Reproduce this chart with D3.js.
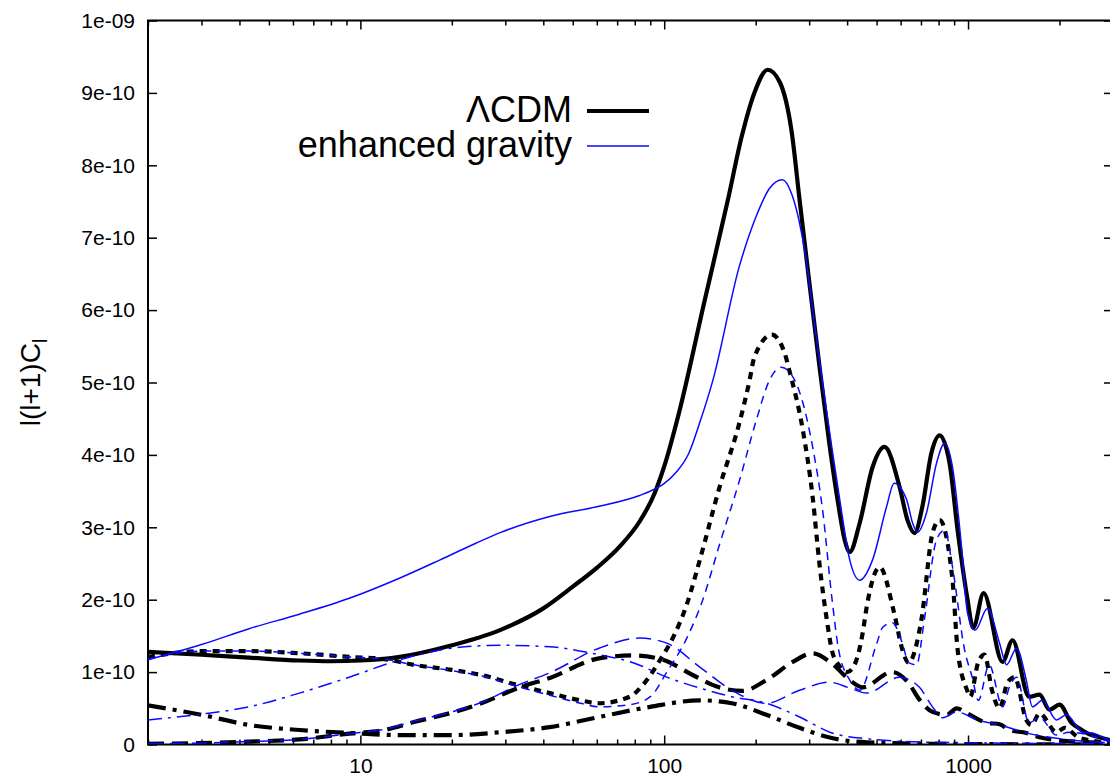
<!DOCTYPE html>
<html lang="en">
<head>
<meta charset="utf-8">
<style>
  body { margin: 0; background: #fff; }
  svg { display: block; }
  .axis .domain { display: none; }
  .axis line { stroke: #000; stroke-width: 1.5; }
  .axis text { fill: #000; }
</style>
<script src="https://cdn.jsdelivr.net/npm/d3@7/dist/d3.min.js"></script>
</head>
<body>
<svg id="chart" width="1110" height="778"></svg>
<script>
// [multipole l, l(l+1)C_l in units of 1e-10]
var lcdmTotal = [[2,1.28],[3,1.24],[4.3,1.2],[6.3,1.16],[8,1.15],[10,1.16],[13.5,1.21],[19.6,1.36],[28.8,1.58],[40,1.88],[50,2.18],[60,2.44],[71.6,2.74],[83,3.08],[93,3.47],[100,3.84],[112,4.59],[136,6.14],[162,7.52],[180,8.4],[198,9.0],[219,9.32],[240,9.15],[263,8.45],[279,7.52],[301,6.35],[324,5.24],[350,4.14],[372,3.38],[393,2.82],[408,2.66],[440,3.06],[485,3.83],[531,4.11],[595,3.56],[632,3.1],[667,2.92],[707,3.28],[758,4.03],[806,4.27],[869,3.89],[924,2.96],[993,2.04],[1040,1.61],[1125,2.09],[1299,1.14],[1401,1.44],[1588,0.66],[1719,0.69],[1854,0.48],[2000,0.55],[2190,0.3],[2328,0.22],[2510,0.14],[2707,0.1],[3000,0.05]];
var lcdmSW = [[2,1.21],[3,1.29],[4.3,1.29],[6.3,1.26],[9.2,1.21],[12,1.18],[15,1.1],[20,1.03],[25,0.96],[33,0.82],[42,0.71],[53,0.61],[61,0.57],[77,0.66],[85,0.82],[97,1.17],[107,1.48],[119,1.95],[131,2.55],[152,3.55],[177,4.45],[191,5.03],[198,5.35],[226,5.66],[249,5.41],[258,5.17],[286,4.34],[308,3.42],[324,2.51],[343,1.72],[356,1.31],[375,1.1],[400,1.0],[425,1.12],[450,1.54],[464,1.9],[512,2.45],[571,1.82],[608,1.31],[637,1.13],[702,1.72],[764,2.92],[806,3.1],[889,2.27],[924,1.31],[993,0.75],[1016,0.66],[1081,1.14],[1133,1.24],[1199,0.75],[1270,0.5],[1350,0.86],[1423,0.93],[1555,0.34],[1618,0.27],[1719,0.43],[1955,0.17],[2077,0.23],[2328,0.09],[3000,0.02]];
var lcdmDoppler = [[2,0.01],[3,0.02],[4.3,0.04],[6.3,0.07],[9.2,0.15],[12,0.2],[15,0.31],[20,0.44],[25,0.57],[33,0.78],[42,0.92],[61,1.19],[79,1.23],[99,1.17],[124,0.96],[149,0.8],[181,0.74],[217,0.89],[265,1.14],[308,1.26],[356,1.12],[408,0.89],[450,0.79],[563,1.0],[637,0.85],[692,0.62],[764,0.45],[851,0.41],[917,0.5],[993,0.43],[1151,0.3],[1270,0.28],[1370,0.2],[1555,0.16],[1719,0.1],[1955,0.06],[3000,0.02]];
var lcdmISW = [[2,0.54],[3,0.41],[4.3,0.27],[6.3,0.2],[9.2,0.16],[13.5,0.13],[20,0.13],[29,0.17],[42,0.24],[61,0.38],[90,0.52],[131,0.61],[167,0.57],[217,0.41],[279,0.23],[356,0.09],[464,0.03],[764,0.01],[3000,0]];

var egTotal = [[2,1.17],[3,1.38],[4.3,1.6],[6.3,1.8],[9.2,2.02],[13.5,2.3],[18.3,2.55],[24,2.78],[29,2.93],[42,3.15],[61,3.29],[83,3.44],[90,3.5],[99.6,3.6],[109.5,3.76],[120.4,4.02],[131,4.45],[144.6,5.03],[176.6,6.6],[201,7.3],[222,7.68],[245,7.8],[263,7.6],[279,7.2],[292,6.75],[308,6.0],[333,4.95],[356,4.11],[384,3.2],[408,2.55],[440,2.27],[485,2.55],[539,3.28],[571,3.61],[628,3.38],[657,3.06],[682,2.93],[730,3.2],[788,3.89],[838,4.16],[889,3.83],[952,2.73],[996,1.82],[1056,1.58],[1158,1.88],[1270,1.4],[1339,1.1],[1445,1.33],[1555,0.89],[1629,0.52],[1758,0.61],[1955,0.34],[2108,0.41],[2380,0.17],[2568,0.16],[2920,0.06],[3000,0.05]];
var egSW = [[2,1.18],[3,1.29],[4.3,1.29],[6.3,1.26],[9.2,1.21],[12,1.18],[15,1.1],[20,1.02],[25,0.95],[33,0.8],[42,0.68],[53,0.57],[61,0.52],[77,0.55],[90,0.66],[102,1.0],[119,1.48],[134,2.0],[152,2.76],[177,3.65],[201,4.48],[222,5.03],[243,5.21],[269,5.03],[308,4.11],[333,3.2],[356,2.04],[375,1.31],[408,0.89],[440,0.75],[501,1.4],[524,1.62],[563,1.68],[608,1.4],[637,1.13],[677,1.1],[718,1.72],[788,2.83],[838,2.96],[889,2.45],[974,1.31],[1032,0.93],[1081,0.61],[1174,1.1],[1299,0.52],[1370,0.8],[1445,0.93],[1588,0.3],[1719,0.37],[1955,0.13],[2157,0.17],[3000,0.02]];
var egDoppler = [[2,0.01],[3,0.02],[4.3,0.04],[6.3,0.07],[9.2,0.15],[12,0.21],[15,0.32],[20,0.45],[25,0.58],[33,0.82],[42,0.99],[61,1.33],[83,1.47],[102,1.4],[131,1.07],[167,0.75],[217,0.57],[279,0.75],[350,0.86],[408,0.78],[464,0.71],[595,0.93],[692,0.79],[764,0.52],[825,0.37],[917,0.45],[1073,0.34],[1270,0.27],[1588,0.15],[2000,0.08],[3000,0.02]];
var egISW = [[2,0.34],[3,0.42],[4.3,0.52],[6.3,0.71],[9.2,0.93],[13.5,1.17],[20,1.33],[29,1.37],[42,1.35],[61,1.24],[79,1.13],[102,0.93],[131,0.78],[167,0.66],[217,0.57],[279,0.38],[356,0.16],[464,0.08],[764,0.03],[3000,0.01]];

var yTickValues = [0,1,2,3,4,5,6,7,8,9,10];
var yTickLabels = ["0","1e-10","2e-10","3e-10","4e-10","5e-10","6e-10","7e-10","8e-10","9e-10","1e-09"];
var xMajorTicks = [10,100,1000];
var xMajorLabels = ["10","100","1000"];
var xMinorTicks = [2,3,4,5,6,7,8,9,20,30,40,50,60,70,80,90,200,300,400,500,600,700,800,900,2000,3000];
var legendLabels = ["\u039bCDM","enhanced gravity"];

var svg = d3.select("#chart"),
    plotLeft = 148, plotRight = 1113, plotTop = 20.5, plotBottom = 744.5,
    font = "'Liberation Sans', Arial, Helvetica, sans-serif",
    blue = "#0a0aff";

var x = d3.scaleLog().domain([2, 3000]).range([plotLeft, plotRight]);
var y = d3.scaleLinear().domain([0, 10]).range([plotBottom, plotTop]);

// axes: inward ticks, mirrored on top and right
function styleAxis(g) {
    g.attr("class", "axis").attr("font-family", font).attr("font-size", 21);
}
svg.append("g").attr("transform", "translate(0," + plotBottom + ")")
   .call(d3.axisBottom(x).tickValues(xMinorTicks).tickSize(-5).tickFormat("")).call(styleAxis);
svg.append("g").attr("transform", "translate(0," + plotBottom + ")")
   .call(d3.axisBottom(x).tickValues(xMajorTicks).tickSize(-9).tickPadding(14)
         .tickFormat(function(d, i) { return xMajorLabels[i]; })).call(styleAxis);
svg.append("g").attr("transform", "translate(0," + plotTop + ")")
   .call(d3.axisTop(x).tickValues(xMinorTicks).tickSize(-5).tickFormat("")).call(styleAxis);
svg.append("g").attr("transform", "translate(0," + plotTop + ")")
   .call(d3.axisTop(x).tickValues(xMajorTicks).tickSize(-9).tickFormat("")).call(styleAxis);
svg.append("g").attr("transform", "translate(" + plotLeft + ",0)")
   .call(d3.axisLeft(y).tickValues(yTickValues).tickSize(-9).tickPadding(13)
         .tickFormat(function(d, i) { return yTickLabels[i]; })).call(styleAxis);
svg.append("g").attr("transform", "translate(" + plotRight + ",0)")
   .call(d3.axisRight(y).tickValues(yTickValues).tickSize(-9).tickFormat("")).call(styleAxis);

svg.append("rect")
   .attr("x", plotLeft).attr("y", plotTop)
   .attr("width", plotRight - plotLeft).attr("height", plotBottom - plotTop)
   .attr("fill", "none").attr("stroke", "#000").attr("stroke-width", 2);

// y label
var ylab = svg.append("text")
   .attr("transform", "translate(40," + ((plotTop + plotBottom) / 2) + ") rotate(-90)")
   .attr("text-anchor", "middle")
   .attr("font-family", font).attr("font-size", 28)
   .text("l(l+1)C");
ylab.append("tspan").attr("font-size", 20).attr("dy", 7).text("l");

// curves
svg.append("clipPath").attr("id", "plotClip")
   .append("rect").attr("x", plotLeft).attr("y", plotTop - 2)
   .attr("width", plotRight - plotLeft).attr("height", plotBottom - plotTop + 2);

var line = d3.line()
    .x(function(d) { return x(d[0]); })
    .y(function(d) { return y(d[1]); })
    .curve(d3.curveMonotoneX);

var series = [
    { data: lcdmTotal,   color: "#000", width: 4.2, dash: null },
    { data: lcdmSW,      color: "#000", width: 4.2, dash: "7,6" },
    { data: lcdmDoppler, color: "#000", width: 4.2, dash: "16,8" },
    { data: lcdmISW,     color: "#000", width: 4.2, dash: "18,7,4,7" },
    { data: egTotal,     color: blue,   width: 1.5, dash: null },
    { data: egSW,        color: blue,   width: 1.5, dash: "8,6" },
    { data: egDoppler,   color: blue,   width: 1.5, dash: "15,7" },
    { data: egISW,       color: blue,   width: 1.5, dash: "14,6,3,6" }
];

svg.append("g").attr("clip-path", "url(#plotClip)")
   .selectAll("path")
   .data(series)
   .enter().append("path")
   .attr("d", function(d) { return line(d.data); })
   .attr("fill", "none")
   .attr("stroke", function(d) { return d.color; })
   .attr("stroke-width", function(d) { return d.width; })
   .attr("stroke-dasharray", function(d) { return d.dash; })
   .attr("stroke-linejoin", "round");

// legend
var legend = svg.append("g").attr("font-family", font).attr("font-size", 36);
[0, 1].forEach(function(i) {
    var by = 122 + i * 35;
    legend.append("text")
          .attr("x", 572).attr("y", by)
          .attr("text-anchor", "end")
          .text(legendLabels[i]);
    legend.append("line")
          .attr("x1", 587).attr("x2", 649)
          .attr("y1", by - 11).attr("y2", by - 11)
          .attr("stroke", i === 0 ? "#000" : blue)
          .attr("stroke-width", i === 0 ? 4.2 : 1.5);
});
</script>
</body>
</html>
